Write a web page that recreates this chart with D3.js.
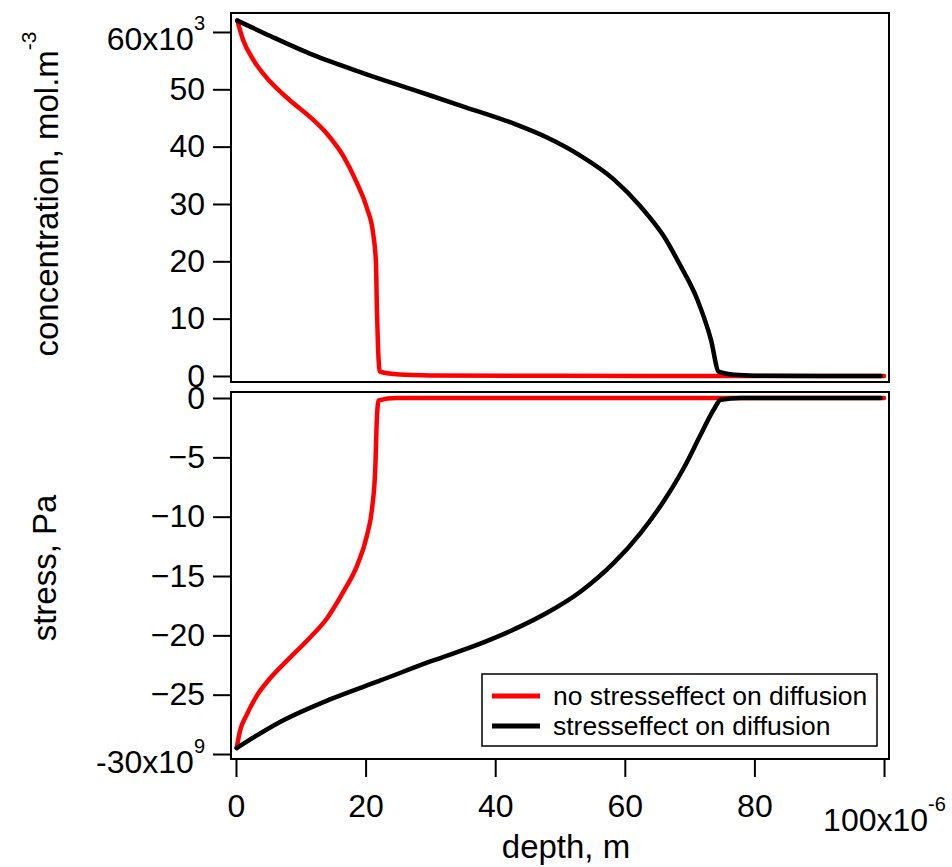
<!DOCTYPE html>
<html>
<head>
<meta charset="utf-8">
<script src="https://cdn.jsdelivr.net/npm/d3@7"></script>
<style>
  body { margin: 0; background: #fff; }
  svg { display: block; font-family: "Liberation Sans", Arial, sans-serif; }
</style>
</head>
<body>
<svg id="chart" width="952" height="867"></svg>
<script>
// depth in µm (x10^-6 m), concentration in x10^3 mol/m3, stress in x10^9 Pa
const redDepth = [0.2, 1.1, 2.7, 5.3, 8.3, 11.4, 14.0, 16.6, 18.6, 20.2, 21.2, 21.6, 21.75, 21.9, 22.2, 24.8, 30, 50, 75, 100];
const redConc = [62.0, 58.6, 55.1, 51.3, 48.1, 45.2, 42.3, 38.3, 33.8, 29.3, 24.6, 19.7, 11.5, 5.7, 0.75, 0.3, 0.1, 0.02, 0, 0];

const blackDepth = [0.2, 5.3, 11.9, 19.7, 27.4, 35.1, 42.9, 48.0, 53.2, 58.3, 62.4, 66.0, 68.6, 71.2, 73.3, 74.5, 76.9, 80, 90, 99.5];
const blackConc = [62.0, 59.3, 56.0, 52.8, 49.9, 47.0, 44.0, 41.6, 38.4, 34.3, 29.6, 24.4, 19.2, 13.3, 6.3, 0.75, 0.2, 0.05, 0, 0];

const redStressDepth = [0.1, 0.6, 1.65, 3.2, 5.3, 8.3, 11.4, 14.0, 16.6, 18.7, 20.2, 21.0, 21.5, 21.7, 22.0, 24.8, 50, 100];
const redStress = [-29.5, -28.1, -26.7, -25.1, -23.6, -21.9, -20.2, -18.6, -16.3, -14.1, -11.6, -9.3, -5.9, -2.3, -0.2, 0, 0, 0];

const blackStressDepth = [0.1, 6.8, 14.5, 22.3, 30.0, 37.7, 42.9, 48.0, 53.2, 58.3, 62.4, 66.0, 69.1, 71.7, 73.8, 74.8, 77.9, 99.5];
const blackStress = [-29.5, -27.3, -25.4, -23.8, -22.2, -20.7, -19.5, -18.1, -16.3, -13.9, -11.4, -8.7, -5.9, -3.1, -0.9, -0.15, 0, 0];

const depthTicks = [0, 20, 40, 60, 80, 100];
const concTicks = [0, 10, 20, 30, 40, 50, 60];
const stressTicks = [0, -5, -10, -15, -20, -25, -30];

const seriesNames = ['no stresseffect on diffusion', 'stresseffect on diffusion'];
const seriesColors = ['#ff0000', '#000000'];

const svg = d3.select('#chart');

// Scales
const x = d3.scaleLinear().domain([-0.77, 100.77]).range([231, 889]);
const yTop = d3.scaleLinear().domain([-1.05, 63.31]).range([382, 13]);
const yBot = d3.scaleLinear().domain([-30.42, 0.506]).range([759, 392]);

// Frames
function frame(y) {
    svg.append('rect')
        .attr('x', x.range()[0])
        .attr('y', y.range()[1])
        .attr('width', x.range()[1] - x.range()[0])
        .attr('height', y.range()[0] - y.range()[1])
        .attr('fill', 'none')
        .attr('stroke', '#000')
        .attr('stroke-width', 2);
}
frame(yTop);
frame(yBot);

// Y axes
function yAxis(y, ticks, expo) {
    const g = svg.append('g')
        .attr('transform', `translate(${x.range()[0]},0)`)
        .call(d3.axisLeft(y).tickValues(ticks).tickSize(18).tickPadding(8).tickFormat(d3.format('d')));
    g.select('.domain').remove();
    g.selectAll('line').attr('stroke-width', 2);
    g.selectAll('text')
        .attr('font-size', 32)
        .attr('fill', '#000')
        .attr('font-family', '"Liberation Sans", Arial, sans-serif');
    // exponent label on the extreme tick
    const last = ticks[ticks.length - 1];
    g.selectAll('.tick').filter(d => d === last).select('text')
        .attr('dy', null)
        .attr('y', 18)
        .text(null)
        .call(t => {
            t.append('tspan').text(last + 'x10');
            t.append('tspan').attr('font-size', 20).attr('dy', -20).text(expo);
        });
}
yAxis(yTop, concTicks, '3');
yAxis(yBot, stressTicks, '9');

// X axis
const gx = svg.append('g')
    .attr('transform', `translate(0,${yBot.range()[0]})`)
    .call(d3.axisBottom(x).tickValues(depthTicks).tickSize(18).tickPadding(17).tickFormat(d3.format('d')));
gx.select('.domain').remove();
gx.selectAll('line').attr('stroke-width', 2);
gx.selectAll('text')
    .attr('font-size', 32)
    .attr('fill', '#000')
    .attr('font-family', '"Liberation Sans", Arial, sans-serif');
gx.selectAll('.tick').filter(d => d === 100).select('text')
    .attr('dy', null)
    .attr('y', 72)
    .text(null)
    .call(t => {
        t.append('tspan').text('100x10');
        t.append('tspan').attr('font-size', 20).attr('dy', -20).text('-6');
    });

// Curves
function drawLine(y, xs, ys, color) {
    const pts = xs.map((d, i) => [d, ys[i]]);
    svg.append('path')
        .datum(pts)
        .attr('fill', 'none')
        .attr('stroke', color)
        .attr('stroke-width', 4.5)
        .attr('stroke-linejoin', 'round')
        .attr('stroke-linecap', 'round')
        .attr('d', d3.line().x(d => x(d[0])).y(d => y(d[1])).curve(d3.curveMonotoneX));
}
drawLine(yTop, redDepth, redConc, seriesColors[0]);
drawLine(yTop, blackDepth, blackConc, seriesColors[1]);
drawLine(yBot, redStressDepth, redStress, seriesColors[0]);
drawLine(yBot, blackStressDepth, blackStress, seriesColors[1]);

// Axis titles
svg.append('text')
    .attr('x', 566).attr('y', 858)
    .attr('text-anchor', 'middle')
    .attr('font-size', 33)
    .text('depth, m');

svg.append('text')
    .attr('transform', 'translate(56,568) rotate(-90)')
    .attr('text-anchor', 'middle')
    .attr('font-size', 33)
    .text('stress, Pa');

const ct = svg.append('text')
    .attr('transform', 'translate(58,194) rotate(-90)')
    .attr('text-anchor', 'middle')
    .attr('font-size', 33);
ct.append('tspan').text('concentration, mol.m');
ct.append('tspan').attr('font-size', 21).attr('dy', -22).text('-3');

// Legend
const leg = svg.append('g');
leg.append('rect')
    .attr('x', 482).attr('y', 674)
    .attr('width', 395).attr('height', 72)
    .attr('fill', '#fff')
    .attr('stroke', '#000')
    .attr('stroke-width', 1.5);
seriesNames.forEach((name, i) => {
    const cy = 696 + i * 30;
    leg.append('line')
        .attr('x1', 492).attr('x2', 540)
        .attr('y1', cy).attr('y2', cy)
        .attr('stroke', seriesColors[i])
        .attr('stroke-width', 5);
    leg.append('text')
        .attr('x', 553).attr('y', cy + 9)
        .attr('font-size', 26.5)
        .text(name);
});
</script>
</body>
</html>
